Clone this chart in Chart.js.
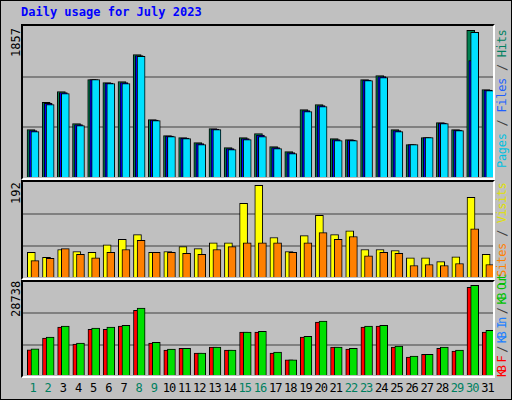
<!DOCTYPE html>
<html>
<head>
<meta charset="utf-8">
<script src="https://cdn.jsdelivr.net/npm/chart.js@4"></script>
<style>
  body { margin: 0; background: #fff; }
  #frame { position: absolute; left: 0; top: 0; width: 510px; height: 398px; background: #c0c0c0; border: 1px solid #000; overflow: hidden; font-family: "DejaVu Sans Mono", monospace; }
  .panel { position: absolute; left: 20px; width: 470px; border-top: 2px solid #000; border-left: 2px solid #000; border-right: 2px solid #fff; border-bottom: 2px solid #fff; }
  .panel canvas { position: absolute; left: 0; top: 0; }
  .rot { position: absolute; transform: rotate(-90deg); transform-origin: left top; white-space: nowrap; font-size: 12px; }
  .day { position: absolute; top: 380px; font-size: 12px; width: 20px; text-align: center; letter-spacing: -1px; }
  #title { position: absolute; left: 20px; top: 4px; color: #0000ff; font-weight: bold; font-size: 12px; }
</style>
</head>
<body>
<div id="frame">
  <div id="title">Daily usage for July 2023</div>
  <div class="panel" style="top:23px;height:152px"><canvas id="c1" width="470" height="152"></canvas></div>
  <div class="panel" style="top:179px;height:96px"><canvas id="c2" width="470" height="96"></canvas></div>
  <div class="panel" style="top:279px;height:94px"><canvas id="c3" width="470" height="94"></canvas></div>
  <div class="rot" style="left:8px;top:56px">1857</div>
  <div class="rot" style="left:8px;top:203px">192</div>
  <div class="rot" style="left:8px;top:316px">28738</div>
  <div class="rot" style="left:494px;top:167px;letter-spacing:-0.3px"><span style="color:#00c0e0">Pages</span><span style="color:#404040"> / </span><span style="color:#2060ff">Files</span><span style="color:#404040"> / </span><span style="color:#008060">Hits</span></div>
  <div class="rot" style="left:494px;top:276px;letter-spacing:-0.5px"><span style="color:#ff8000">Sites</span><span style="color:#404040"> / </span><span style="color:#e0e000">Visits</span></div>
  <div class="rot" style="left:494px;top:376px;letter-spacing:-2.4px"><span style="color:#ff0000">KB F</span><span style="color:#404040"> / </span><span style="color:#2080ff">KB In</span><span style="color:#404040"> / </span><span style="color:#00c000">KB Out</span></div>
  <div id="days"></div>
</div>
<script>
const days = Array.from({length: 31}, (_, i) => i + 1);
const weekend = [1, 2, 8, 9, 15, 16, 22, 23, 29, 30];

const hits = [609, 953, 1088, 685, 1239, 1201, 1214, 1554, 735, 533, 508, 445, 622, 382, 508, 559,
              395, 332, 861, 924, 496, 483, 1239, 1289, 609, 420, 508, 697, 609, 1857, 1113];
const files = [596, 940, 1075, 672, 1239, 1195, 1200, 1540, 728, 527, 502, 432, 615, 370, 495, 540,
               382, 320, 848, 912, 483, 476, 1232, 1276, 596, 420, 508, 690, 602, 1478, 1106];
const pages = [584, 924, 1063, 659, 1239, 1189, 1189, 1529, 722, 521, 496, 420, 609, 357, 483, 521,
               370, 307, 836, 899, 470, 470, 1226, 1264, 584, 420, 508, 685, 596, 1831, 1100];

const visits = [53, 43, 59, 55, 53, 69, 80, 90, 53, 55, 65, 61, 73, 73, 155, 192,
                84, 55, 88, 130, 90, 98, 59, 59, 57, 42, 42, 34, 44, 167, 49];
const sites = [36, 41, 61, 49, 42, 53, 59, 78, 53, 53, 51, 49, 59, 65, 73, 73,
               73, 53, 73, 94, 80, 86, 46, 53, 51, 26, 28, 26, 30, 102, 28];

const kbIn = [8319, 11990, 15480, 10100, 14800, 14800, 15800, 20800, 10400, 8200, 8800, 7300, 9200, 8200, 13900, 13900,
              7300, 5100, 12300, 17100, 9200, 8500, 15500, 15800, 9200, 6000, 6900, 8800, 7900, 28100, 13900];
const kbOut = [8634, 12300, 15800, 10400, 15200, 15500, 16100, 21500, 10700, 8500, 8800, 7300, 9200, 8200, 13900, 14200,
               7600, 5100, 12600, 17400, 9200, 8800, 15800, 16100, 9500, 6300, 6900, 9200, 8200, 28738, 14500];

function series(values, offset, color, order) {
    return {
        data: values.map((v, i) => ({x: days[i] + offset, y: v})),
        backgroundColor: color,
        borderColor: '#000',
        borderWidth: 1,
        borderSkipped: 'bottom',
        barThickness: 8,
        grouped: false,
        order: order
    };
}

function makeChart(id, datasets, max) {
    new Chart(document.getElementById(id), {
        type: 'bar',
        data: { datasets: datasets },
        options: {
            responsive: false,
            animation: false,
            layout: { padding: 0 },
            plugins: { legend: { display: false }, tooltip: { enabled: false } },
            scales: {
                x: { type: 'linear', min: 0.5, max: 31.5, offset: false, display: false },
                y: {
                    min: 0, max: max,
                    afterBuildTicks: axis => { axis.ticks = [0, max / 3, max * 2 / 3, max].map(v => ({value: v})); },
                    ticks: { display: false },
                    border: { display: false },
                    grid: {
                        drawTicks: false,
                        color: ctx => (ctx.index === 1 || ctx.index === 2) ? '#808080' : 'rgba(0,0,0,0)',
                        lineWidth: 2
                    }
                }
            }
        }
    });
}

makeChart('c1', [
    series(hits, 0.03, '#008050', 3),
    series(files, 0.16, '#0000ff', 2),
    series(pages, 0.29, '#00e0ff', 1)
], 1912);

makeChart('c2', [
    series(visits, 0.05, '#ffff00', 2),
    series(sites, 0.29, '#ff8000', 1)
], 199);

makeChart('c3', [
    series(kbIn, 0.05, '#ff0000', 2),
    series(kbOut, 0.29, '#00e000', 1)
], 29800);

// day labels under the bottom panel
const dayBox = document.getElementById('days');
days.forEach(d => {
    const el = document.createElement('div');
    el.className = 'day';
    el.textContent = d;
    el.style.left = (22 + (d - 0.5) * 470 / 31 - 8) + 'px';
    el.style.color = weekend.includes(d) ? '#008060' : '#000';
    dayBox.appendChild(el);
});
</script>
</body>
</html>
